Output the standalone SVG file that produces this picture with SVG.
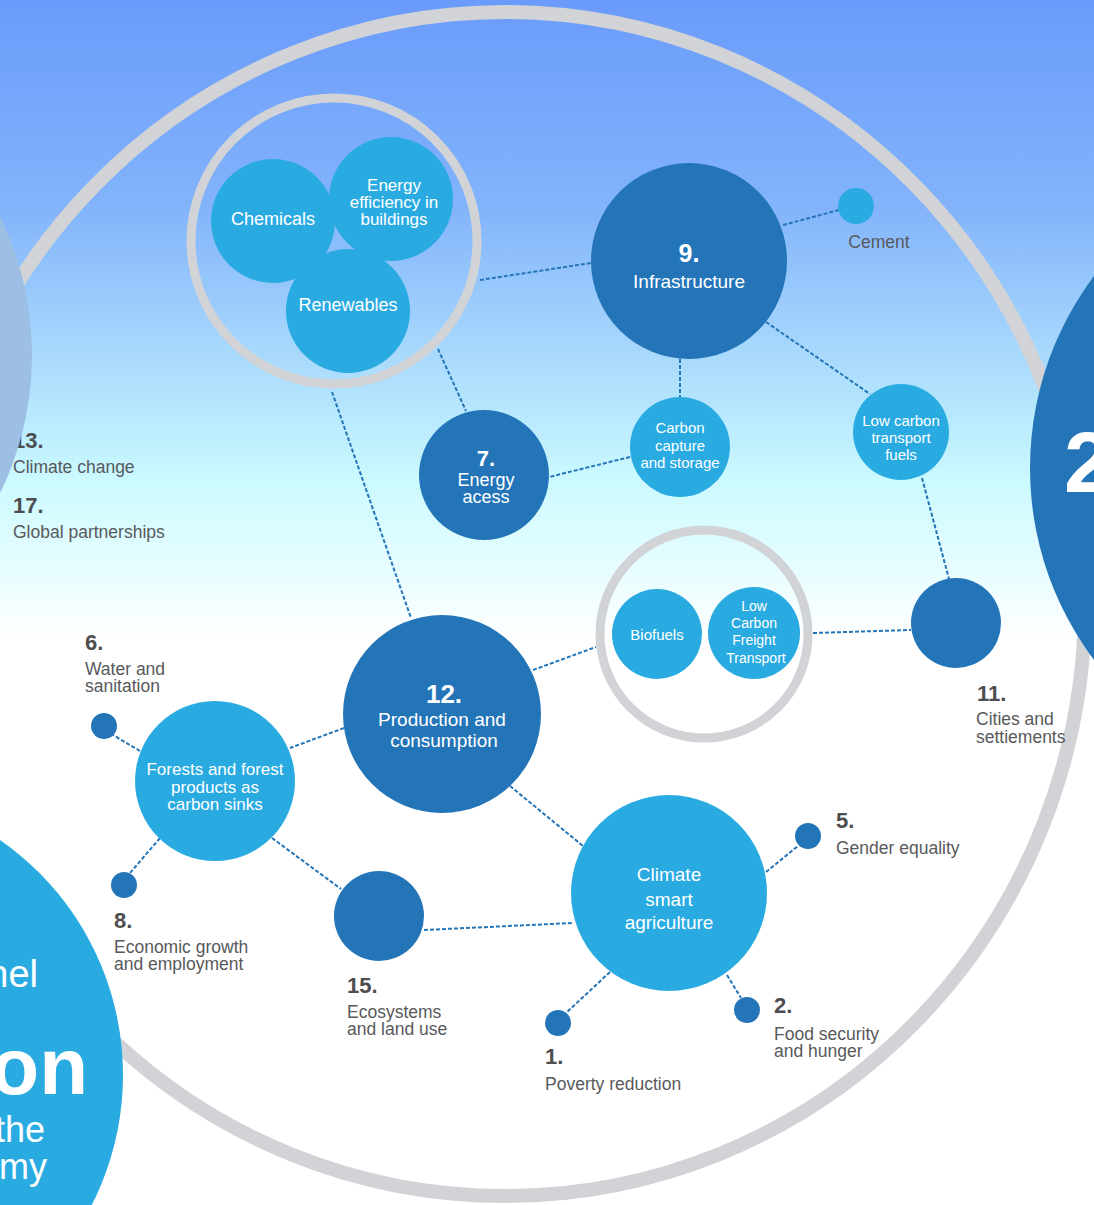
<svg xmlns="http://www.w3.org/2000/svg" width="1094" height="1205" viewBox="0 0 1094 1205">
<defs>
<linearGradient id="bg" x1="0" y1="0" x2="0" y2="1205" gradientUnits="userSpaceOnUse">
<stop offset="0" stop-color="#6a9bfb"/>
<stop offset="0.17" stop-color="#82b3fb"/>
<stop offset="0.33" stop-color="#b3e4fd"/>
<stop offset="0.40" stop-color="#cbfaff"/>
<stop offset="0.47" stop-color="#e6fdff"/>
<stop offset="0.53" stop-color="#ffffff"/>
<stop offset="1" stop-color="#ffffff"/>
</linearGradient>
<style>
.dark{fill:#2475b8}
.cyan{fill:#29abe2}
.ring{fill:none;stroke:#d1d3d6}
.conn{fill:none;stroke:#2475b8;stroke-width:2;stroke-dasharray:4 2}
.wt{fill:#ffffff;font-family:"Liberation Sans",Arial,sans-serif;text-anchor:middle}
.wn{fill:#ffffff;font-family:"Liberation Sans",Arial,sans-serif;text-anchor:middle;font-weight:bold}
.lb{fill:#58595b;font-family:"Liberation Sans",Arial,sans-serif;font-size:17.5px}
.num{fill:#4d4d4f;font-family:"Liberation Sans",Arial,sans-serif;font-size:22px;font-weight:bold}
</style>
</defs>
<rect x="0" y="0" width="1094" height="1205" fill="url(#bg)"/>

<ellipse id="outer-ring" class="ring" cx="505" cy="604" rx="580" ry="592" stroke-width="14"/>

<g id="sdg13-17-labels">
<text class="num" x="13" y="448">13.</text>
<text class="lb" x="13" y="473">Climate change</text>
<text class="num" x="13" y="513">17.</text>
<text class="lb" x="13" y="538">Global partnerships</text>
</g>
<circle id="left-circle" cx="-282" cy="355" r="314" fill="#9ebfe4"/>

<g id="right-circle">
<circle cx="1350" cy="468" r="320" class="dark"/>
<text x="1064" y="492" fill="#ffffff" font-family="'Liberation Sans',Arial,sans-serif" font-size="86" font-weight="bold">2</text>
</g>

<g id="bottom-left-circle">
<circle cx="-163" cy="1075" r="286" class="cyan"/>
<text x="38" y="987" fill="#ffffff" font-family="'Liberation Sans',Arial,sans-serif" font-size="38" text-anchor="end">nel</text>
<text x="88" y="1094" fill="#ffffff" font-family="'Liberation Sans',Arial,sans-serif" font-size="80" font-weight="bold" text-anchor="end">on</text>
<text x="45" y="1142" fill="#ffffff" font-family="'Liberation Sans',Arial,sans-serif" font-size="36" text-anchor="end">the</text>
<text x="47" y="1179" fill="#ffffff" font-family="'Liberation Sans',Arial,sans-serif" font-size="36" text-anchor="end">my</text>
</g>

<g id="connectors">
<line class="conn" x1="480" y1="280" x2="591" y2="263"/>
<line class="conn" x1="438" y1="349" x2="466" y2="411"/>
<line class="conn" x1="332" y1="392" x2="411" y2="618"/>
<line class="conn" x1="783" y1="225" x2="839" y2="210"/>
<line class="conn" x1="680" y1="359" x2="680" y2="397"/>
<line class="conn" x1="766" y1="322" x2="870" y2="394"/>
<line class="conn" x1="630" y1="457" x2="549" y2="477"/>
<line class="conn" x1="922" y1="478" x2="949" y2="579"/>
<line class="conn" x1="813" y1="633" x2="911" y2="630"/>
<line class="conn" x1="533" y1="670" x2="596" y2="647"/>
<line class="conn" x1="344" y1="728" x2="290" y2="748"/>
<line class="conn" x1="140" y1="751" x2="113" y2="735"/>
<line class="conn" x1="160" y1="838" x2="130" y2="873"/>
<line class="conn" x1="272" y1="838" x2="341" y2="889"/>
<line class="conn" x1="424" y1="930" x2="573" y2="923"/>
<line class="conn" x1="510" y1="786" x2="583" y2="846"/>
<line class="conn" x1="766" y1="872" x2="798" y2="846"/>
<line class="conn" x1="727" y1="975" x2="741" y2="998"/>
<line class="conn" x1="610" y1="972" x2="566" y2="1013"/>
</g>

<g id="group-ring-1">
<circle class="ring" cx="334" cy="241" r="143" stroke-width="9"/>
</g>
<g id="node-chemicals">
<circle class="cyan" cx="273" cy="221" r="62"/>
<text class="wt" x="273" y="225" font-size="18">Chemicals</text>
</g>
<g id="node-energy-efficiency">
<circle class="cyan" cx="391" cy="199" r="62"/>
<text class="wt" x="394" y="191" font-size="17">Energy</text>
<text class="wt" x="394" y="208" font-size="17">efficiency in</text>
<text class="wt" x="394" y="225" font-size="17">buildings</text>
</g>
<g id="node-renewables">
<circle class="cyan" cx="348" cy="311" r="62"/>
<text class="wt" x="348" y="311" font-size="18">Renewables</text>
</g>

<g id="node-9">
<circle class="dark" cx="689" cy="261" r="98"/>
<text class="wn" x="689" y="262" font-size="25">9.</text>
<text class="wt" x="689" y="288" font-size="19">Infrastructure</text>
</g>
<g id="node-cement">
<circle class="cyan" cx="856" cy="206" r="18"/>
<text class="lb" x="879" y="248" text-anchor="middle">Cement</text>
</g>
<g id="node-ccs">
<circle class="cyan" cx="680" cy="447" r="50"/>
<text class="wt" x="680" y="433" font-size="15">Carbon</text>
<text class="wt" x="680" y="451" font-size="15">capture</text>
<text class="wt" x="680" y="468" font-size="15">and storage</text>
</g>
<g id="node-low-carbon-fuels">
<circle class="cyan" cx="901" cy="432" r="48"/>
<text class="wt" x="901" y="426" font-size="15">Low carbon</text>
<text class="wt" x="901" y="443" font-size="15">transport</text>
<text class="wt" x="901" y="460" font-size="15">fuels</text>
</g>
<g id="node-7">
<circle class="dark" cx="484" cy="475" r="65"/>
<text class="wn" x="486" y="466" font-size="22">7.</text>
<text class="wt" x="486" y="486" font-size="18">Energy</text>
<text class="wt" x="486" y="503" font-size="18">acess</text>
</g>

<g id="group-ring-2">
<circle class="ring" cx="704" cy="634" r="104" stroke-width="9"/>
</g>
<g id="node-biofuels">
<circle class="cyan" cx="657" cy="634" r="45"/>
<text class="wt" x="657" y="640" font-size="15">Biofuels</text>
</g>
<g id="node-freight">
<circle class="cyan" cx="754" cy="633" r="46"/>
<text class="wt" x="754" y="611" font-size="14">Low</text>
<text class="wt" x="754" y="628" font-size="14">Carbon</text>
<text class="wt" x="754" y="645" font-size="14">Freight</text>
<text class="wt" x="756" y="663" font-size="14">Transport</text>
</g>
<g id="node-11">
<circle class="dark" cx="956" cy="623" r="45"/>
<text class="num" x="977" y="701">11.</text>
<text class="lb" x="976" y="725">Cities and</text>
<text class="lb" x="976" y="743">settiements</text>
</g>

<g id="node-12">
<circle class="dark" cx="442" cy="714" r="99"/>
<text class="wn" x="444" y="703" font-size="26">12.</text>
<text class="wt" x="442" y="726" font-size="19">Production and</text>
<text class="wt" x="444" y="747" font-size="19">consumption</text>
</g>
<g id="node-forests">
<circle class="cyan" cx="215" cy="781" r="80"/>
<text class="wt" x="215" y="775" font-size="17">Forests and forest</text>
<text class="wt" x="215" y="793" font-size="17">products as</text>
<text class="wt" x="215" y="810" font-size="17">carbon sinks</text>
</g>
<g id="node-6">
<circle class="dark" cx="104" cy="726" r="13"/>
<text class="num" x="85" y="650">6.</text>
<text class="lb" x="85" y="675">Water and</text>
<text class="lb" x="85" y="692">sanitation</text>
</g>
<g id="node-8">
<circle class="dark" cx="124" cy="885" r="13"/>
<text class="num" x="114" y="928">8.</text>
<text class="lb" x="114" y="953">Economic growth</text>
<text class="lb" x="114" y="970">and employment</text>
</g>
<g id="node-15">
<circle class="dark" cx="379" cy="916" r="45"/>
<text class="num" x="347" y="993">15.</text>
<text class="lb" x="347" y="1018">Ecosystems</text>
<text class="lb" x="347" y="1035">and land use</text>
</g>
<g id="node-climate-smart">
<circle class="cyan" cx="669" cy="893" r="98"/>
<text class="wt" x="669" y="881" font-size="19">Climate</text>
<text class="wt" x="669" y="906" font-size="19">smart</text>
<text class="wt" x="669" y="929" font-size="19">agriculture</text>
</g>
<g id="node-5">
<circle class="dark" cx="808" cy="836" r="13"/>
<text class="num" x="836" y="828">5.</text>
<text class="lb" x="836" y="854">Gender equality</text>
</g>
<g id="node-2">
<circle class="dark" cx="747" cy="1010" r="13"/>
<text class="num" x="774" y="1013">2.</text>
<text class="lb" x="774" y="1040">Food security</text>
<text class="lb" x="774" y="1057">and hunger</text>
</g>
<g id="node-1">
<circle class="dark" cx="558" cy="1023" r="13"/>
<text class="num" x="545" y="1064">1.</text>
<text class="lb" x="545" y="1090">Poverty reduction</text>
</g>
</svg>
